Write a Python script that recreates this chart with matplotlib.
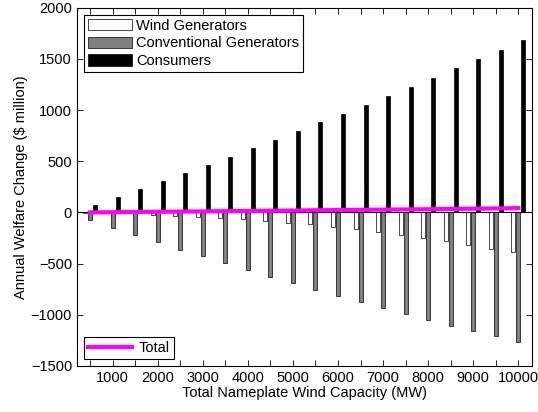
import matplotlib
matplotlib.use('Agg')
from matplotlib import pyplot as plt
import numpy as np

plt.rcParams['font.family'] = ['Liberation Sans', 'DejaVu Sans']
plt.rcParams['font.size'] = 10.5

capacity = list(range(500, 10001, 500))
wind = [-3, -5, -10, -22, -32, -42, -52, -66, -81, -101,
        -115, -140, -164, -189, -216, -248, -281, -314, -353, -389]
conventional = [-78, -150, -219, -291, -363, -428, -493, -562, -630, -689,
                -755, -817, -875, -934, -993, -1052, -1108, -1164, -1213, -1268]
consumers = [72, 150, 225, 304, 385, 468, 546, 627, 709, 794,
             879, 964, 1049, 1137, 1228, 1317, 1409, 1500, 1591, 1686]
total = [0, 2, 4, 6, 8, 10, 12, 14, 16, 18,
         21, 23, 25, 27, 29, 31, 34, 36, 39, 42]

fig = plt.figure(figsize=(5.38, 4.12), dpi=100)
ax = fig.add_axes([0.143, 0.112, 0.846, 0.869])

x = np.array(capacity)
step = 500 * (2 / 3) / 3
w = step * 0.8
b1 = ax.bar(x - step, wind, w, color='white', edgecolor='black', linewidth=0.5)
b2 = ax.bar(x, conventional, w, color='#808080', edgecolor='black', linewidth=0.5)
b3 = ax.bar(x + step, consumers, w, color='black', edgecolor='black', linewidth=0.5)
ax.axhline(0, color='black', linewidth=0.8, zorder=1)
ln, = ax.plot(x, total, color='#ff00ff', linewidth=3, zorder=5)

ax.set_xlim(210, 10305)
ax.set_ylim(-1500, 2000)
ax.set_xticks(capacity)
ax.set_xticklabels([str(c) if c % 1000 == 0 else '' for c in capacity])
ax.set_yticks(range(-1500, 2001, 500))
ax.tick_params(direction='in', top=True, right=True, length=4, width=0.6)
for s in ax.spines.values():
    s.set_linewidth(0.8)
ax.set_xlabel('Total Nameplate Wind Capacity (MW)', labelpad=1)
ax.set_ylabel('Annual Welfare Change ($ million)', labelpad=2)

leg1 = ax.legend([b1, b2, b3], ['Wind Generators', 'Conventional Generators', 'Consumers'],
                 loc='upper left', fancybox=False, edgecolor='black', framealpha=1,
                 handlelength=3.0, handleheight=0.8, borderaxespad=0.5,
                 labelspacing=0.25, borderpad=0.25, handletextpad=0.3)
leg1.get_frame().set_linewidth(0.8)
ax.add_artist(leg1)
leg2 = ax.legend([ln], ['Total'], loc='lower left', fancybox=False, edgecolor='black',
                 framealpha=1, handlelength=3.0, borderaxespad=0.5, borderpad=0.25,
                 handletextpad=0.5)
leg2.get_frame().set_linewidth(0.8)

fig.savefig('out.png', dpi=100)
